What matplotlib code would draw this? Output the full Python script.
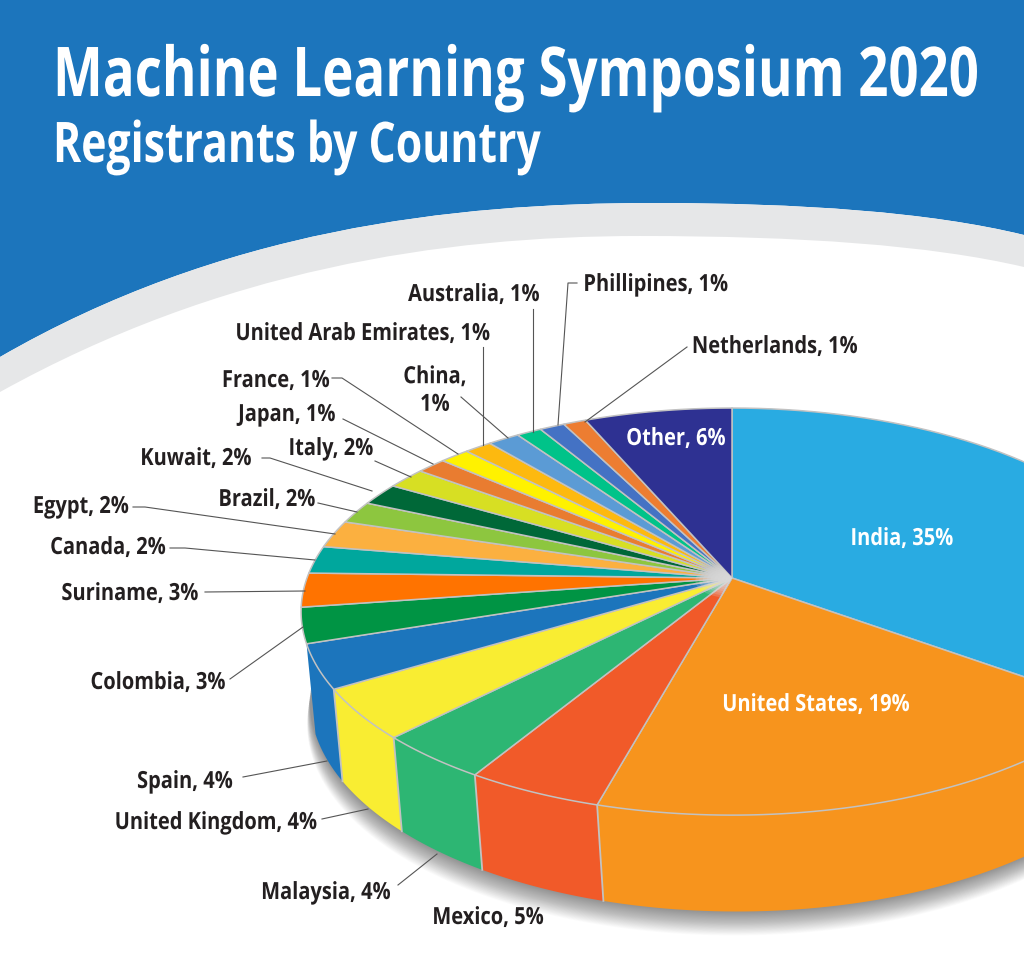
import numpy as np
import matplotlib
matplotlib.use('Agg')
import matplotlib.pyplot as plt
from matplotlib.patches import PathPatch
from matplotlib.patheffects import AbstractPathEffect
from matplotlib.path import Path
from matplotlib.transforms import Affine2D

countries = ['India', 'United States', 'Mexico', 'Malaysia', 'United Kingdom', 'Spain', 'Colombia',
             'Suriname', 'Canada', 'Egypt', 'Brazil', 'Kuwait', 'Italy', 'Japan', 'France',
             'United Arab Emirates', 'China', 'Australia', 'Phillipines', 'Netherlands', 'Other']
shares = [35, 19.3, 4.4, 3.7, 4.0, 3.5, 2.8, 2.7, 2.2, 2.2, 1.8, 1.8, 1.7, 1.3, 1.3, 1.2, 1.4, 1.1, 1.1, 1.0, 6.5]
shown_pct = [35, 19, 5, 4, 4, 4, 3, 3, 2, 2, 2, 2, 2, 1, 1, 1, 1, 1, 1, 1, 6]
colors = ['#29ABE2', '#F7941D', '#F15A29', '#2DB673', '#F9ED32', '#1C75BC', '#009444',
          '#FF7300', '#00A79D', '#FBB040', '#8DC63F', '#006838', '#D7DF23', '#E97C30', '#FFF200',
          '#FDB90F', '#5B9BD5', '#00C389', '#4472C4', '#ED7D31', '#2E3192']

# label centres in pixels, same order as countries
label_xy = [(902, 539), (816, 705), (488, 918), (326, 893), (216, 823), (185, 782), (158, 683),
            (130, 594), (108, 548), (81, 507), (267, 500), (196, 459), (331, 449), (287, 415), (276, 381),
            (363, 334), (435, 391), (474, 295), (656, 285), (775, 347), (676, 439)]

leaders = [[(577, 283), (568, 283), (558, 425)], [(533, 309), (533, 432)], [(483, 347), (483, 445)],
           [(461, 397), (508, 438)], [(687, 347), (585, 422)], [(332, 378), (342, 378), (458, 454)],
           [(343, 419), (433, 464)], [(375, 461), (411, 477)], [(262, 458), (270, 458), (372, 491)],
           [(318, 503), (357, 512)], [(133, 507), (145, 507), (335, 534)], [(170, 548), (185, 548), (315, 560)],
           [(205, 592), (305, 591)], [(230, 679), (303, 627)], [(243, 777), (327, 761)],
           [(322, 819), (368, 809)], [(398, 885), (437, 854)]]

BLUE = '#1C75BC'
GREY = '#E6E7E8'
DARK = '#231F20'
EDGE = '#C2C2C2'
FONT = ['Open Sans', 'DejaVu Sans']
LABEL_SQUEEZE = 0.85

# pie is a circle seen in perspective, apex at (732, 578)
APEX_X = 732
APEX_Y = 578
PERSP = 0.165


def project(pct, cx=APEX_X, a=425, b=198, drop=0):
    t = 2 * np.pi * np.asarray(pct) / 100
    w = 1 + PERSP * np.cos(t)
    return cx + a * np.sin(t) / w, APEX_Y - b * np.cos(t) / w + drop


def rim(pct):
    return project(pct)


def base(pct):
    return project(pct, cx=737, a=421, b=205, drop=88)


class Squeeze(AbstractPathEffect):
    # the reference font is condensed, none is installed, so reshape the glyphs
    def __init__(self, x0, y0, sx, sy=1):
        super().__init__()
        self.x0, self.y0, self.sx, self.sy = x0, y0, sx, sy

    def draw_path(self, renderer, gc, tpath, affine, rgbFace=None):
        shape = Affine2D().translate(-self.x0, -self.y0).scale(self.sx, self.sy).translate(self.x0, self.y0)
        renderer.draw_path(gc, tpath, affine + shape, rgbFace)


def narrow_text(x, y, s, sx=None, width=None, sy=1, **kw):
    t = ax.text(x, y, s, family=FONT, fontweight='bold', zorder=9, **kw)
    if width is not None:
        sx = width / t.get_window_extent(fig.canvas.get_renderer()).width
    x0, y0 = ax.transData.transform((x, y))
    t.set_path_effects([Squeeze(x0, y0, sx, sy)])
    return t


fig = plt.figure(figsize=(10.24, 9.64), dpi=100)
ax = fig.add_axes([0, 0, 1, 1])
ax.set_xlim(0, 1024)
ax.set_ylim(964, 0)
ax.axis('off')
fig.patch.set_facecolor('white')

# background bands
outer = [(0, 357), (220, 230), (450, 203), (653, 203), (800, 203), (930, 212), (1024, 235)]
inner = [(1024, 267), (930, 245), (800, 236), (640, 236), (440, 236), (220, 270), (0, 392)]
curve = [Path.CURVE4] * 6
ax.add_patch(PathPatch(Path([(0, 0)] + outer + [(1024, 0), (0, 0)],
                            [Path.MOVETO, Path.LINETO] + curve + [Path.LINETO, Path.CLOSEPOLY]),
                       fc=BLUE, ec='none', zorder=1))
ax.add_patch(PathPatch(Path(outer + inner + [outer[0]],
                            [Path.MOVETO] + curve + [Path.LINETO] + curve + [Path.CLOSEPOLY]),
                       fc=GREY, ec='none', zorder=1))

narrow_text(53, 96, 'Machine Learning Symposium 2020', width=925, sy=49.4 / 39, color='white', fontsize=39,
            ha='left', va='baseline')
narrow_text(53, 162, 'Registrants by Country', width=488, color='white', fontsize=40.3,
            ha='left', va='baseline')

# soft shadow below the pie
ring = np.linspace(0, 100, 361)
bx, by = base(ring)
for i in range(1, 31):
    ax.fill(bx - i * 0.1, by + i * 0.8, color='black', alpha=0.017, lw=0, zorder=2)

ends = np.cumsum(shares)
starts = ends - np.array(shares)
side_limit = ends[5]

# sides first, then the top face
for s, e, c in zip(starts, ends, colors):
    if s >= side_limit:
        continue
    pts = np.linspace(s, min(e, side_limit), 60)
    tx, ty = rim(pts)
    bx, by = base(pts)
    ax.fill(np.r_[tx, bx[::-1]], np.r_[ty, by[::-1]], color=c, lw=0, zorder=3)
    if e < side_limit:
        ex, ey = rim(e)
        fx, fy = base(e)
        ax.plot([ex, fx], [ey, fy], color=EDGE, lw=1.3, zorder=4)

for s, e, c in zip(starts, ends, colors):
    pts = np.linspace(s, e, 60)
    tx, ty = rim(pts)
    ax.fill(np.r_[APEX_X, tx], np.r_[APEX_Y, ty], facecolor=c, edgecolor=EDGE, lw=1.1, zorder=5)

# pale glow where the thin slices meet
glow = np.linspace(ends[1], ends[19], 60)
gx, gy = rim(glow)
for r in np.linspace(0.015, 0.085, 9):
    ax.fill(np.r_[APEX_X, APEX_X + r * (gx - APEX_X)], np.r_[APEX_Y, APEX_Y + r * (gy - APEX_Y)],
            color='#DEDEDE', alpha=0.2, lw=0, zorder=6)

for line in leaders:
    xs, ys = zip(*line)
    ax.plot(xs, ys, color='#555555', lw=0.8, zorder=7)

for name, pct, (x, y) in zip(countries, shown_pct, label_xy):
    text = f'{name}, {pct}%'
    if name == 'China':
        text = 'China,\n1%'
    col = 'white' if name in ('India', 'United States', 'Other') else DARK
    narrow_text(x, y, text, sx=LABEL_SQUEEZE, color=col, fontsize=17,
                ha='center', va='center', linespacing=1.2)

fig.savefig('out.png', dpi=100)
